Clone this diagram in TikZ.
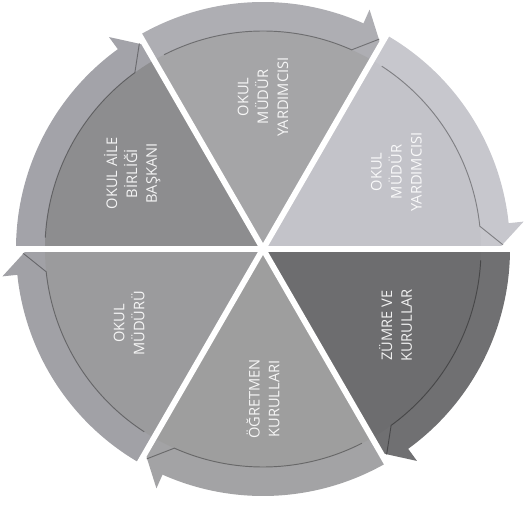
\documentclass[tikz,border=0pt]{standalone}
\usepackage{fontspec}
\usepackage{xcolor}
\usepackage{tikz}
\newfontfamily\labelfont{Open Sans}

\definecolor{yardA}{HTML}{A5A5A7}
\definecolor{yardAband}{HTML}{AEAEB3}
\definecolor{yardB}{HTML}{C3C3C9}
\definecolor{yardBband}{HTML}{C7C7CD}
\definecolor{zumre}{HTML}{6D6D6F}
\definecolor{zumreband}{HTML}{707072}
\definecolor{ogret}{HTML}{9E9E9E}
\definecolor{ogretband}{HTML}{A3A3A5}
\definecolor{mudur}{HTML}{9B9B9D}
\definecolor{mudurband}{HTML}{A1A1A6}
\definecolor{veli}{HTML}{8D8D8F}
\definecolor{veliband}{HTML}{A3A3A9}

\begin{document}
\begin{tikzpicture}[
    x=0.03cm, y=0.03cm,
    seglabel/.style={rotate=90, align=center, text=white, opacity=0.9, font=\labelfont\fontsize{12.5}{17}\selectfont},
    ringline/.style={draw=black, opacity=0.35, line width=0.8pt},
    gap/.style={draw=white, line width=5pt}
]
\useasboundingbox (-263,-259) rectangle (263,249);

\begin{scope}
  \clip (0,0) -- (60:300) arc[start angle=60, end angle=120, radius=300] -- cycle;
  \fill[yardAband] (0,0) -- (120:247) arc[start angle=120, end angle=66, radius=247] -- (66:262) -- (57:225) -- cycle;
  \fill[yardA] (0,0) -- (60:218) arc[start angle=60, end angle=120, radius=218] -- cycle;
  \draw[ringline] (117:218) arc[start angle=117, end angle=66, radius=218] -- (61:240);
\end{scope}

\begin{scope}
  \clip (0,0) -- (0:300) arc[start angle=0, end angle=60, radius=300] -- cycle;
  \fill[yardBband] (0,0) -- (60:247) arc[start angle=60, end angle=6, radius=247] -- (6:262) -- (-3:225) -- cycle;
  \fill[yardB] (0,0) -- (0:218) arc[start angle=0, end angle=60, radius=218] -- cycle;
  \draw[ringline] (57:218) arc[start angle=57, end angle=6, radius=218] -- (1:240);
\end{scope}

\begin{scope}
  \clip (0,0) -- (300:300) arc[start angle=300, end angle=360, radius=300] -- cycle;
  \fill[zumreband] (0,0) -- (360:247) arc[start angle=360, end angle=306, radius=247] -- (306:262) -- (297:225) -- cycle;
  \fill[zumre] (0,0) -- (300:218) arc[start angle=300, end angle=360, radius=218] -- cycle;
  \draw[ringline] (357:218) arc[start angle=357, end angle=306, radius=218] -- (301:240);
\end{scope}

\begin{scope}
  \clip (0,0) -- (240:300) arc[start angle=240, end angle=300, radius=300] -- cycle;
  \fill[ogretband] (0,0) -- (300:247) arc[start angle=300, end angle=246, radius=247] -- (246:262) -- (237:225) -- cycle;
  \fill[ogret] (0,0) -- (240:218) arc[start angle=240, end angle=300, radius=218] -- cycle;
  \draw[ringline] (297:218) arc[start angle=297, end angle=246, radius=218] -- (241:240);
\end{scope}

\begin{scope}
  \clip (0,0) -- (180:300) arc[start angle=180, end angle=240, radius=300] -- cycle;
  \fill[mudurband] (0,0) -- (240:247) arc[start angle=240, end angle=186, radius=247] -- (186:262) -- (177:225) -- cycle;
  \fill[mudur] (0,0) -- (180:218) arc[start angle=180, end angle=240, radius=218] -- cycle;
  \draw[ringline] (237:218) arc[start angle=237, end angle=186, radius=218] -- (181:240);
\end{scope}

\begin{scope}
  \clip (0,0) -- (120:300) arc[start angle=120, end angle=180, radius=300] -- cycle;
  \fill[veliband] (0,0) -- (180:247) arc[start angle=180, end angle=126, radius=247] -- (126:262) -- (117:225) -- cycle;
  \fill[veli] (0,0) -- (120:218) arc[start angle=120, end angle=180, radius=218] -- cycle;
  \draw[ringline] (177:218) arc[start angle=177, end angle=126, radius=218] -- (121:240);
\end{scope}

\draw[gap] (0,0) -- (0:280);
\draw[gap] (0,0) -- (60:280);
\draw[gap] (0,0) -- (120:280);
\draw[gap] (0,0) -- (180:280);
\draw[gap] (0,0) -- (240:280);
\draw[gap] (0,0) -- (300:280);

\node[seglabel] (yardimci1) at (90:152) {OKUL\\MÜDÜR\\YARDIMCISI};
\node[seglabel] (yardimci2) at (30:154) {OKUL\\MÜDÜR\\YARDIMCISI};
\node[seglabel] (zumre) at (330:153) {ZÜMRE VE\\KURULLAR};
\node[seglabel] (ogretmen) at (270:150) {ÖĞRETMEN\\KURULLARI};
\node[seglabel] (mudur) at (209:153) {OKUL\\MÜDÜRÜ};
\node[seglabel] (veli) at (150:151) {OKUL AİLE\\BİRLİĞİ\\BAŞKANI};

\end{tikzpicture}
\end{document}
